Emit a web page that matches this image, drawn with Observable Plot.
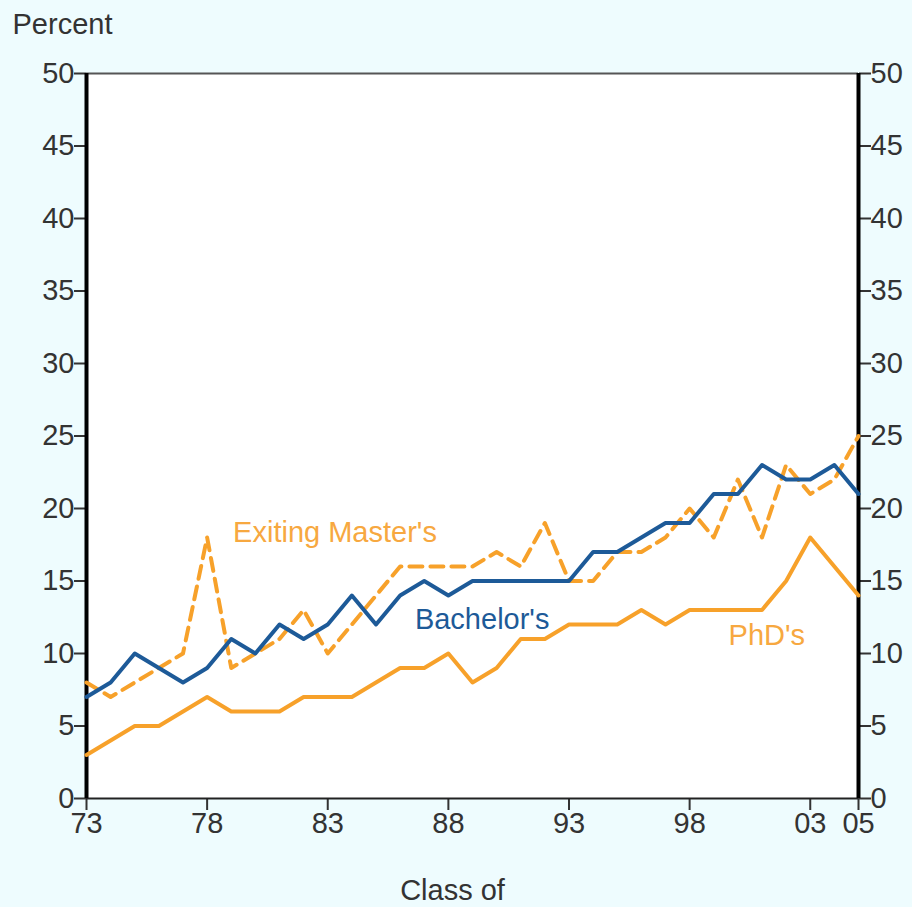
<!DOCTYPE html>
<html>
<head>
<meta charset="utf-8">
<script src="https://cdn.jsdelivr.net/npm/d3@7"></script>
<script src="https://cdn.jsdelivr.net/npm/@observablehq/plot@0.6"></script>
<style>
  html, body { margin: 0; padding: 0; background: #eefcfe; }
  #chart svg { display: block; }
</style>
</head>
<body>
<div id="chart"></div>
<script>
const years = [1973,1974,1975,1976,1977,1978,1979,1980,1981,1982,1983,1984,1985,1986,1987,1988,1989,1990,1991,1992,1993,1994,1995,1996,1997,1998,1999,2000,2001,2002,2003,2004,2005];
const bachelors = [7,8,10,9,8,9,11,10,12,11,12,14,12,14,15,14,15,15,15,15,15,17,17,18,19,19,21,21,23,22,22,23,21];
const masters = [8,7,8,9,10,18,9,10,11,13,10,12,14,16,16,16,16,17,16,19,15,15,17,17,18,20,18,22,18,23,21,22,25];
const phds = [3,4,5,5,6,7,6,6,6,7,7,7,8,9,9,10,8,9,11,11,12,12,12,13,12,13,13,13,13,15,18,16,14];
const xTicks = [1973,1978,1983,1988,1993,1998,2003,2005];
const xTickLabels = ["73","78","83","88","93","98","03","05"];
const yTicks = [0,5,10,15,20,25,30,35,40,45,50];

const blue = "#1d5a98";
const orange = "#f7a12a";
const labelOrange = "#f7a840";

const toRows = (vals) => years.map((y, i) => ({year: y, value: vals[i]}));
const tickLabel = new Map(xTicks.map((t, i) => [t, xTickLabels[i]]));

const chart = Plot.plot({
  width: 912,
  height: 907,
  marginLeft: 86,
  marginRight: 54,
  marginTop: 73,
  marginBottom: 109,
  style: {background: "transparent", fontFamily: "'Liberation Sans', Arial, sans-serif", fontSize: "29px", color: "#333"},
  x: {domain: [1973, 2005]},
  y: {domain: [0, 50]},
  marks: [
    Plot.frame({fill: "white", stroke: null}),
    Plot.axisY({ticks: yTicks, anchor: "left", tickSize: 12, tickPadding: 0, label: null, stroke: "#333", strokeWidth: 2, fill: "#333", fontSize: 29}),
    Plot.axisY({ticks: yTicks, anchor: "right", tickSize: 12, tickPadding: 0, label: null, stroke: "#333", strokeWidth: 2, fill: "#333", fontSize: 29}),
    Plot.axisX({ticks: xTicks, tickFormat: d => tickLabel.get(d), tickSize: 12, tickPadding: 2, label: null, stroke: "#333", strokeWidth: 2, fill: "#333", fontSize: 29}),
    Plot.ruleY([50], {stroke: "#555", strokeWidth: 2}),
    Plot.ruleY([0], {stroke: "#222", strokeWidth: 2}),
    Plot.ruleX([1973, 2005], {stroke: "#000", strokeWidth: 4}),
    Plot.line(toRows(phds), {x: "year", y: "value", stroke: orange, strokeWidth: 4}),
    Plot.line(toRows(masters), {x: "year", y: "value", stroke: orange, strokeWidth: 4, strokeDasharray: "13,8"}),
    Plot.line(toRows(bachelors), {x: "year", y: "value", stroke: blue, strokeWidth: 4}),
    Plot.text(["Exiting Master's"], {x: 1983.3, y: 18.3, fill: labelOrange, fontSize: 29}),
    Plot.text(["Bachelor's"], {x: 1989.4, y: 12.3, fill: blue, fontSize: 29}),
    Plot.text(["PhD's"], {x: 2001.2, y: 11.2, fill: labelOrange, fontSize: 29}),
    Plot.text(["Percent"], {frameAnchor: "top-left", dx: -74, dy: -60, textAnchor: "start", fill: "#333", fontSize: 29}),
    Plot.text(["Class of"], {frameAnchor: "bottom", dx: -20, dy: 101, fill: "#333", fontSize: 29})
  ]
});
document.getElementById("chart").appendChild(chart);
</script>
</body>
</html>
